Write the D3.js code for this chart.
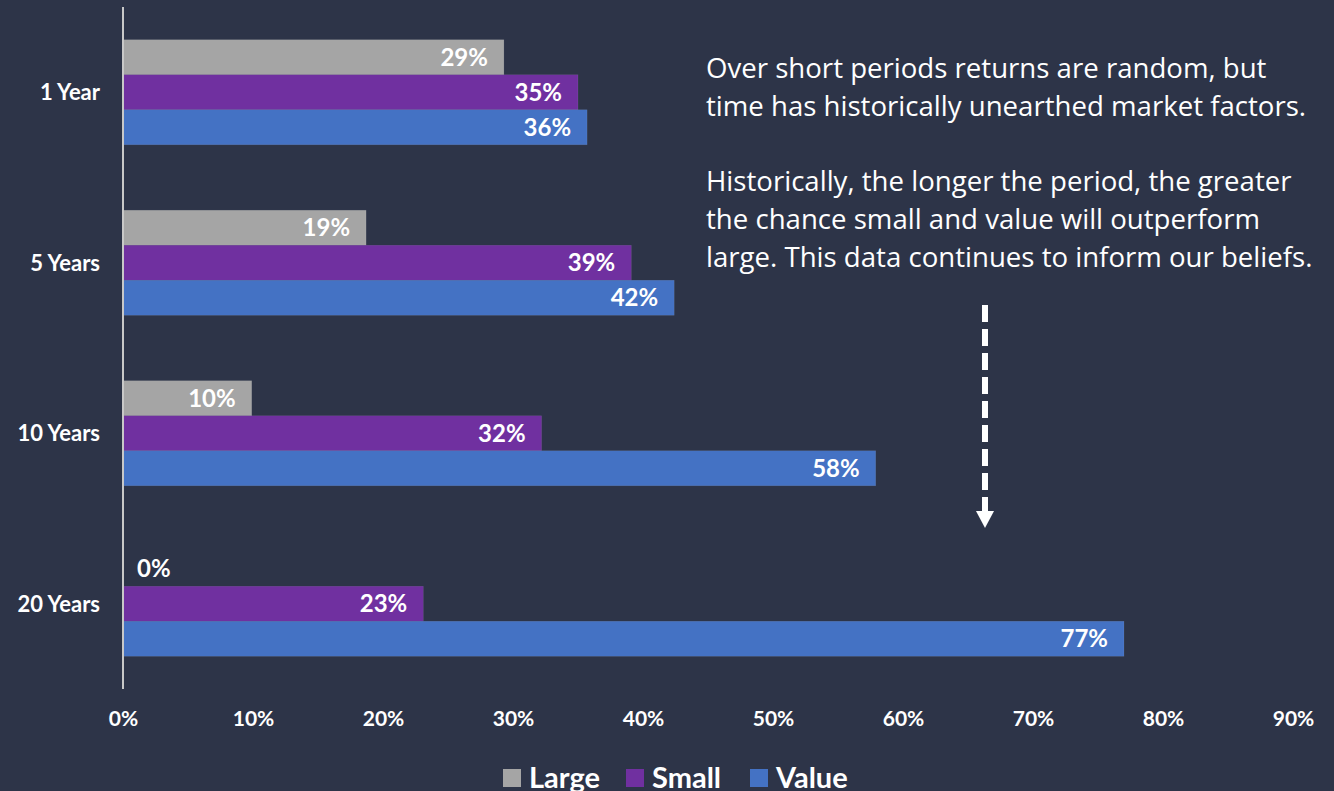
<!DOCTYPE html>
<html>
<head>
<meta charset="utf-8">
<script src="https://cdn.jsdelivr.net/npm/d3@7"></script>
<style>
  html, body { margin: 0; padding: 0; background: #2d3448; }
  svg { display: block; }
  text { font-family: Lato, "Open Sans", sans-serif; fill: #ffffff; }
  text.note { font-family: "Open Sans", sans-serif; }
</style>
</head>
<body>
<div id="chart"></div>
<script>
const periods = ["1 Year", "5 Years", "10 Years", "20 Years"];
const seriesNames = ["Large", "Small", "Value"];
// percentages; labels show them rounded
const largeValues = [29.3, 18.7, 9.9, 0];
const smallValues = [35.0, 39.1, 32.2, 23.1];
const valueValues = [35.7, 42.4, 57.9, 77.0];
const xTicks = [0, 10, 20, 30, 40, 50, 60, 70, 80, 90];
const noteLines = [
  "Over short periods returns are random, but",
  "time has historically unearthed market factors.",
  "",
  "Historically, the longer the period, the greater",
  "the chance small and value will outperform",
  "large. This data continues to inform our beliefs.",
];

const colors = new Map([
  ["Large", "#a5a5a5"],
  ["Small", "#7030a0"],
  ["Value", "#4472c4"],
]);

const width = 1334;
const height = 791;
const fmt = d3.format(".0f");

const rows = periods.map((p, i) => ({
  period: p,
  values: [
    { key: "Large", value: largeValues[i] },
    { key: "Small", value: smallValues[i] },
    { key: "Value", value: valueValues[i] },
  ],
}));

const svg = d3.select("#chart").append("svg")
  .attr("width", width)
  .attr("height", height);

svg.append("rect").attr("width", width).attr("height", height).attr("fill", "#2d3448");

const x = d3.scaleLinear().domain([0, 90]).range([123, 1293]);

const y = d3.scaleBand()
  .domain(periods)
  .range([7, 689])
  .paddingInner(0.384)
  .paddingOuter(0.192);

const ySub = d3.scaleBand()
  .domain(seriesNames)
  .range([0, y.bandwidth()])
  .paddingInner(0);

// bars
const groups = svg.append("g").attr("class", "bars")
  .selectAll("g")
  .data(rows)
  .join("g")
  .attr("transform", (d) => `translate(0,${y(d.period)})`);

groups.selectAll("rect")
  .data((d) => d.values)
  .join("rect")
  .attr("x", x(0))
  .attr("y", (d) => ySub(d.key))
  .attr("width", (d) => x(d.value) - x(0))
  .attr("height", ySub.bandwidth())
  .attr("fill", (d) => colors.get(d.key))
  .attr("stroke", "rgba(255,255,255,0.12)")
  .attr("stroke-width", 0.6);

groups.selectAll("text.value")
  .data((d) => d.values)
  .join("text")
  .attr("class", "value")
  .attr("x", (d) => (d.value < 5 ? x(0) + 14 : x(d.value) - 16))
  .attr("y", (d) => ySub(d.key) + ySub.bandwidth() / 2)
  .attr("dy", "0.36em")
  .attr("text-anchor", (d) => (d.value < 5 ? "start" : "end"))
  .attr("font-size", 24)
  .attr("font-weight", 700)
  .text((d) => `${fmt(d.value)}%`);

// y axis line + category labels
svg.append("line")
  .attr("x1", x(0)).attr("x2", x(0))
  .attr("y1", 7).attr("y2", 689)
  .attr("stroke", "#c8c8c8")
  .attr("stroke-width", 2);

svg.append("g").selectAll("text")
  .data(periods)
  .join("text")
  .attr("x", 100)
  .attr("y", (d) => y(d) + y.bandwidth() / 2)
  .attr("dy", "0.36em")
  .attr("text-anchor", "end")
  .attr("font-size", 22)
  .attr("font-weight", 700)
  .text((d) => d);

// x axis labels
const axisX = svg.append("g")
  .attr("transform", "translate(0,711)")
  .call(d3.axisBottom(x).tickValues(xTicks).tickFormat((d) => `${d}%`).tickSize(0).tickPadding(0));
axisX.select(".domain").remove();
axisX.selectAll("text")
  .attr("font-family", "Lato, sans-serif")
  .attr("font-size", 21)
  .attr("font-weight", 700)
  .attr("fill", "#ffffff");

// legend
const legendItems = [
  { key: "Large", x: 503 },
  { key: "Small", x: 626 },
  { key: "Value", x: 750 },
];
const legend = svg.append("g").selectAll("g")
  .data(legendItems)
  .join("g")
  .attr("transform", (d) => `translate(${d.x},769)`);
legend.append("rect")
  .attr("width", 18).attr("height", 18)
  .attr("fill", (d) => colors.get(d.key));
legend.append("text")
  .attr("x", 26)
  .attr("y", 19)
  .attr("font-size", 29)
  .attr("font-weight", 700)
  .text((d) => d.key);

// note text
svg.append("g").selectAll("text")
  .data(noteLines)
  .join("text")
  .attr("class", "note")
  .attr("x", 706)
  .attr("y", (d, i) => 68 + i * 37.8)
  .attr("dy", "0.36em")
  .attr("font-size", 27.6)
  .text((d) => d);

// dashed arrow
svg.append("line")
  .attr("x1", 985).attr("x2", 985)
  .attr("y1", 305).attr("y2", 511)
  .attr("stroke", "#ffffff")
  .attr("stroke-width", 6)
  .attr("stroke-dasharray", "17 7");
svg.append("path")
  .attr("d", "M976,511 L994,511 L985,528 Z")
  .attr("fill", "#ffffff");
</script>
</body>
</html>
